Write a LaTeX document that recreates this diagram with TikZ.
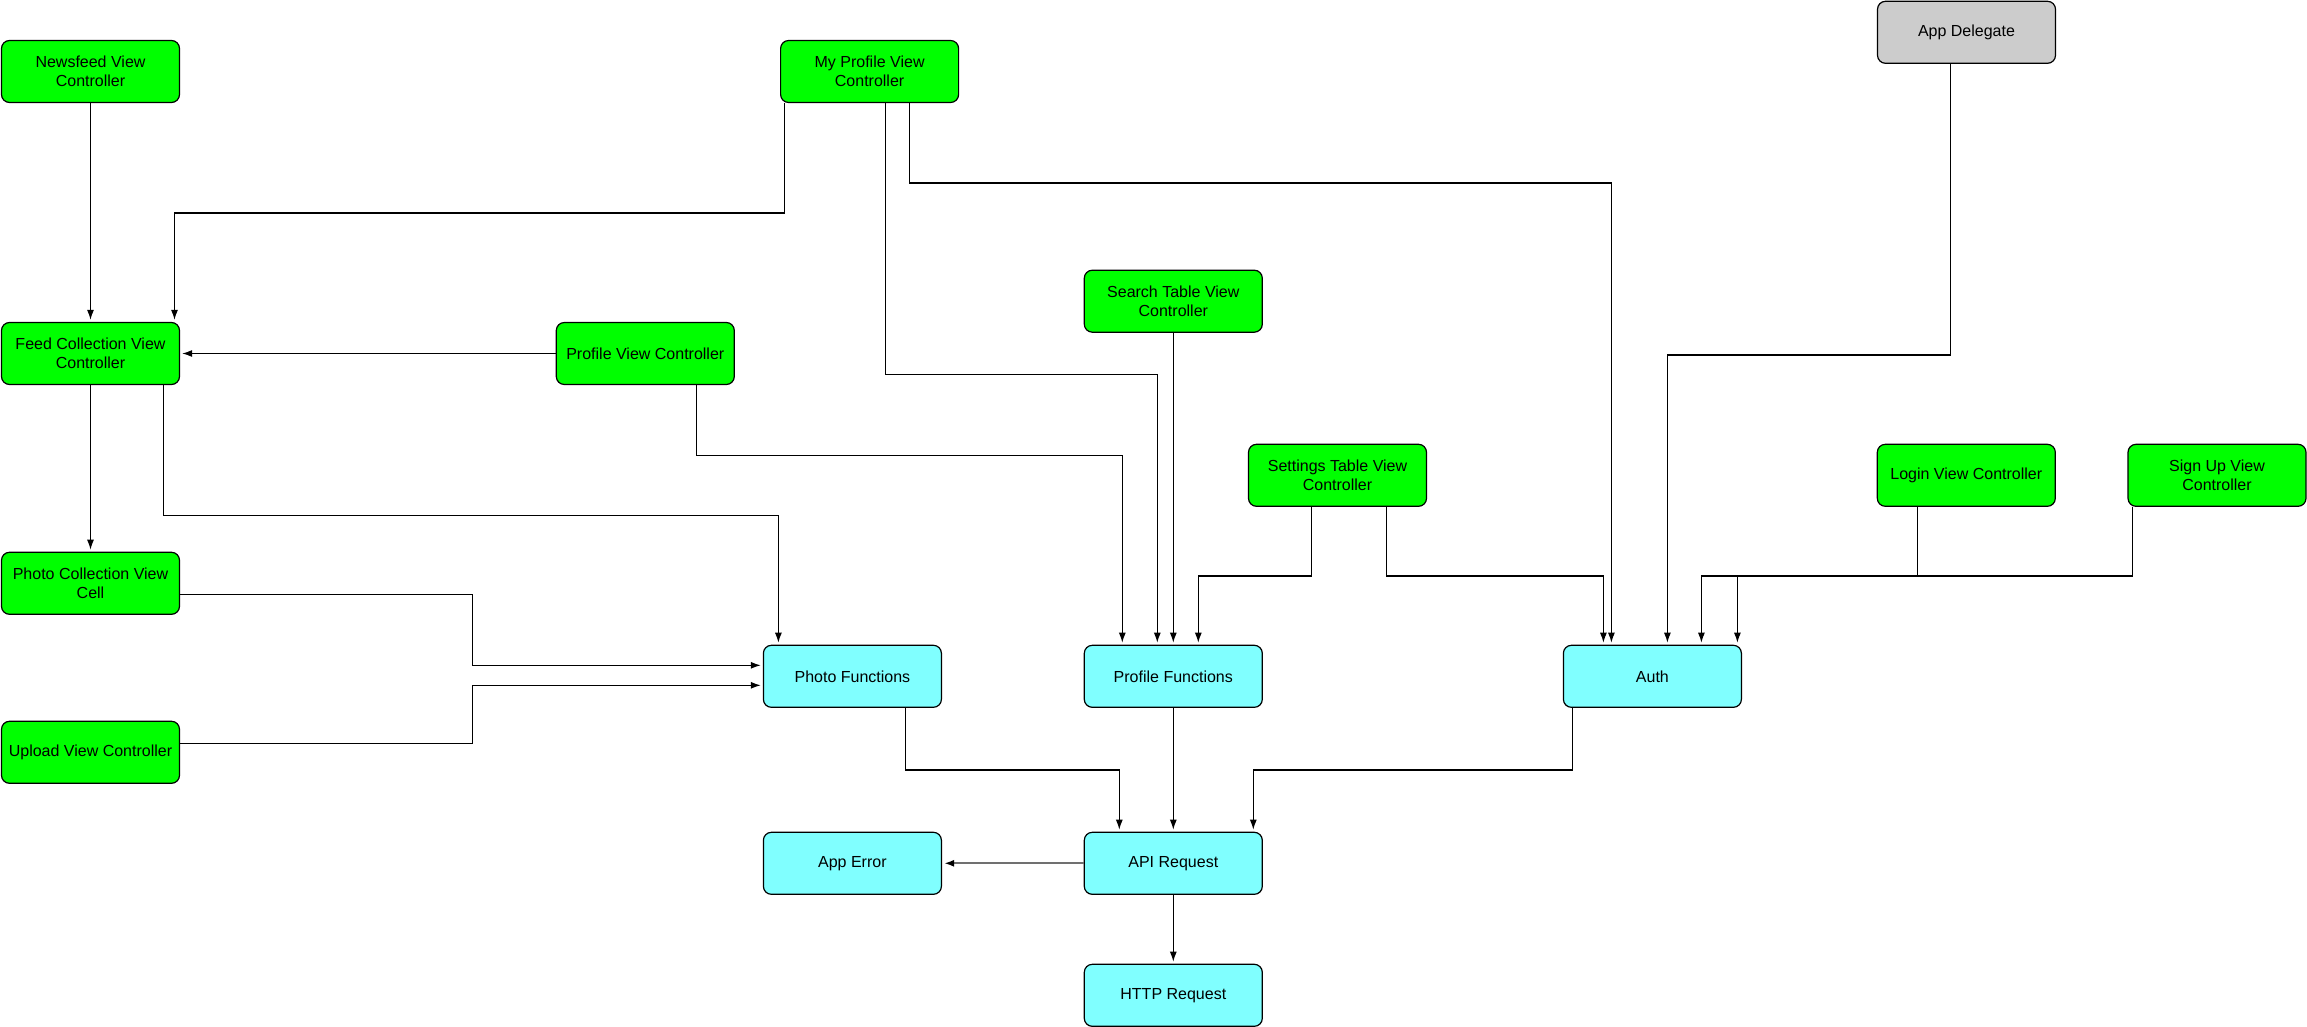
\documentclass[tikz,border=0pt]{standalone}
\usepackage{fontspec}
\setmainfont{Liberation Sans}
\usetikzlibrary{arrows.meta}

\definecolor{ctrlgreen}{HTML}{00FF00}
\definecolor{funccyan}{HTML}{80FFFF}
\definecolor{delegray}{HTML}{CCCCCC}
\definecolor{errgray}{HTML}{707070}

\begin{document}
\begin{tikzpicture}[x=1pt,y=-1pt,
    box/.style={draw, line width=1.2pt, rounded corners=8pt,
      minimum width=178pt, minimum height=62pt, inner sep=2pt,
      align=center, font=\fontsize{16}{18.5}\selectfont},
    ctrl/.style={box, fill=ctrlgreen},
    func/.style={box, fill=funccyan},
    flow/.style={line width=1.2pt, -{Latex[length=10pt,width=7pt]}, shorten >=2pt}]
  \useasboundingbox (0,0) rectangle (2307,1027);

  % view controllers
  \node[ctrl] (news)      at (90.5,71.5)    {Newsfeed View\\Controller};
  \node[ctrl] (myprof)    at (869.6,71.5)   {My Profile View\\Controller};
  \node[box, fill=delegray] (appdel) at (1966.5,32.3) {App Delegate};
  \node[ctrl] (feed)      at (90.5,353.5)   {Feed Collection View\\Controller};
  \node[ctrl] (profvc)    at (645.3,353.5)  {Profile View Controller};
  \node[ctrl] (search)    at (1173.3,301.2) {Search Table View\\Controller};
  \node[ctrl] (settings)  at (1337.5,475.3) {Settings Table View\\Controller};
  \node[ctrl] (login)     at (1966.3,475.3) {Login View Controller};
  \node[ctrl] (signup)    at (2217,475.3)   {Sign Up View\\Controller};
  \node[ctrl] (photocell) at (90.5,583.3)   {Photo Collection View\\Cell};
  \node[ctrl] (upload)    at (90.5,752.3)   {Upload View Controller};

  % model layer
  \node[func] (photofn) at (852.4,676.3)  {Photo Functions};
  \node[func] (proffn)  at (1173.3,676.3) {Profile Functions};
  \node[func] (auth)    at (1652.4,676.3) {Auth};
  \node[func] (apperr)  at (852.4,863.3)  {App Error};
  \node[func] (api)     at (1173.3,863.3) {API Request};
  \node[func] (http)    at (1173.3,995.3) {HTTP Request};

  % into feed collection
  \draw[flow] (news) -- (feed);
  \draw[flow] ([xshift=-85pt]myprof.south) -- ++(0,110) -| ([xshift=84pt]feed.north);
  \draw[flow] (profvc.west) -- (feed.east);
  \draw[flow] (feed) -- (photocell);

  % into photo functions
  \draw[flow] ([xshift=73pt]feed.south) -- ++(0,130) -| ([xshift=-74pt]photofn.north);
  \draw[flow] ([yshift=-11pt]photocell.east) -- ++(292,0) |- ([yshift=11pt]photofn.west);
  \draw[flow] ([yshift=9pt]upload.east) -- ++(292,0) |- ([yshift=-9pt]photofn.west);

  % into profile functions
  \draw[flow] ([xshift=16pt]myprof.south) -- ++(0,271) -| ([xshift=-16pt]proffn.north);
  \draw[flow] (search) -- (proffn);
  \draw[flow] ([xshift=51pt]profvc.south) -- ++(0,70) -| ([xshift=-51pt]proffn.north);
  \draw[flow] ([xshift=-26pt]settings.south) -- ++(0,69) -| ([xshift=25pt]proffn.north);

  % into auth
  \draw[flow] ([xshift=40pt]myprof.south) -- ++(0,80) -| ([xshift=-41pt]auth.north);
  \draw[flow] ([xshift=49pt]settings.south) -- ++(0,69) -| ([xshift=-49pt]auth.north);
  \draw[flow] ([xshift=-16pt]appdel.south) -- ++(0,291) -| ([xshift=15pt]auth.north);
  \draw[flow] ([xshift=-49pt]login.south) -- ++(0,69) -| ([xshift=49pt]auth.north);
  \draw[flow] ([xshift=-84.5pt]signup.south) -- ++(0,69) -| ([xshift=85pt]auth.north);

  % into api request
  \draw[flow] ([xshift=53pt]photofn.south) -- ++(0,62) -| ([xshift=-54pt]api.north);
  \draw[flow] (proffn) -- (api);
  \draw[flow] ([xshift=-80pt]auth.south) -- ++(0,62) -| ([xshift=80pt]api.north);
  \draw[line width=2pt, errgray, -{Latex[length=10pt,width=7pt,black]}, shorten >=2pt] (api.west) -- (apperr.east);
  \draw[flow] (api) -- (http);
\end{tikzpicture}
\end{document}
